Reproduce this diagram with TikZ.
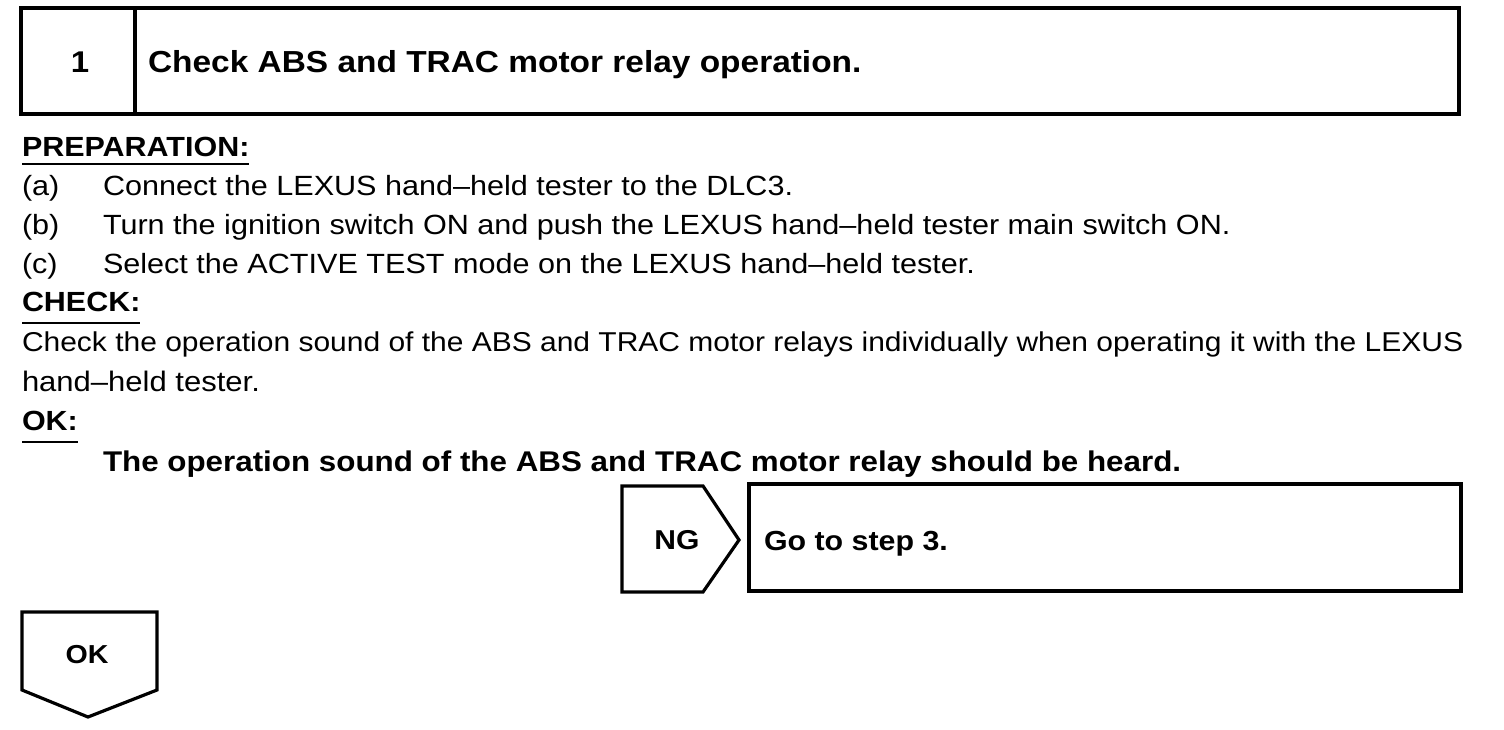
\documentclass[tikz,border=0pt]{standalone}
\usepackage{fontspec}
\setmainfont{Liberation Sans}[FakeStretch=1.1]
\usetikzlibrary{calc}
\tikzset{
  txt/.style={inner sep=0pt, outer sep=0pt, anchor=base west},
  reg/.style={txt, font=\fontsize{27.8}{30}\selectfont},
  hd/.style={txt, font=\fontsize{27.7}{30}\selectfont\bfseries},
  stmt/.style={txt, font=\fontsize{28.5}{30}\selectfont\bfseries},
  frame/.style={draw=black, line width=3.2pt, line join=miter},
  ul/.style={draw=black, line width=2pt}
}
\begin{document}
\begin{tikzpicture}[x=1pt,y=-1pt]
\useasboundingbox (0,0) rectangle (1504,730);
% header
\draw[frame] (21,8) rectangle (1459,114);
\draw[frame] (135,8) -- (135,114);
\node[txt, anchor=base, font=\fontsize{30}{30}\selectfont\bfseries] (num) at (80,73) {1};
\node[txt, font=\fontsize{30.4}{30}\selectfont\bfseries] (title) at (148,73) {Check ABS and TRAC motor relay operation.};
% preparation
\node[hd] (prep) at (22,157) {PREPARATION:};
\draw[ul] ($(prep.base west)+(0,7)$) -- ($(prep.base east)+(0,7)$);
\node[reg] (la) at (22,196) {(a)};
\node[reg] (ta) at (103,196) {Connect the LEXUS hand–held tester to the DLC3.};
\node[reg] (lb) at (22,234) {(b)};
\node[reg] (tb) at (103,234) {Turn the ignition switch ON and push the LEXUS hand–held tester main switch ON.};
\node[reg] (lc) at (22,273) {(c)};
\node[reg] (tc) at (103,273) {Select the ACTIVE TEST mode on the LEXUS hand–held tester.};
% check
\node[hd] (chk) at (22,311) {CHECK:};
\draw[ul] ($(chk.base west)+(0,12)$) -- ($(chk.base east)+(0,12)$);
\node[reg, font=\fontsize{27.25}{30}\selectfont] (c1) at (22,351) {Check the operation sound of the ABS and TRAC motor relays individually when operating it with the LEXUS};
\node[reg, font=\fontsize{28.2}{30}\selectfont] (c2) at (22,391) {hand–held tester.};
% ok
\node[hd] (okh) at (22,430) {OK:};
\draw[ul] ($(okh.base west)+(0,12)$) -- ($(okh.base east)+(0,12)$);
\node[stmt] (st) at (103,471) {The operation sound of the ABS and TRAC motor relay should be heard.};
% NG
\draw[frame] (622,486) -- (703,486) -- (739,540) -- (703,592) -- (622,592) -- cycle;
\node[txt, anchor=base, font=\fontsize{27.3}{30}\selectfont\bfseries] (ng) at (677,549) {NG};
\draw[frame] (749,484) rectangle (1461,591);
\node[txt, font=\fontsize{27.6}{30}\selectfont\bfseries] (go) at (764,550) {Go to step 3.};
% OK arrow
\draw[frame] (22,612) -- (157,612) -- (157,690) -- (88,717) -- (22,690) -- cycle;
\node[txt, anchor=base, font=\fontsize{26}{30}\selectfont\bfseries] (ok) at (87,663) {OK};
\end{tikzpicture}
\end{document}
